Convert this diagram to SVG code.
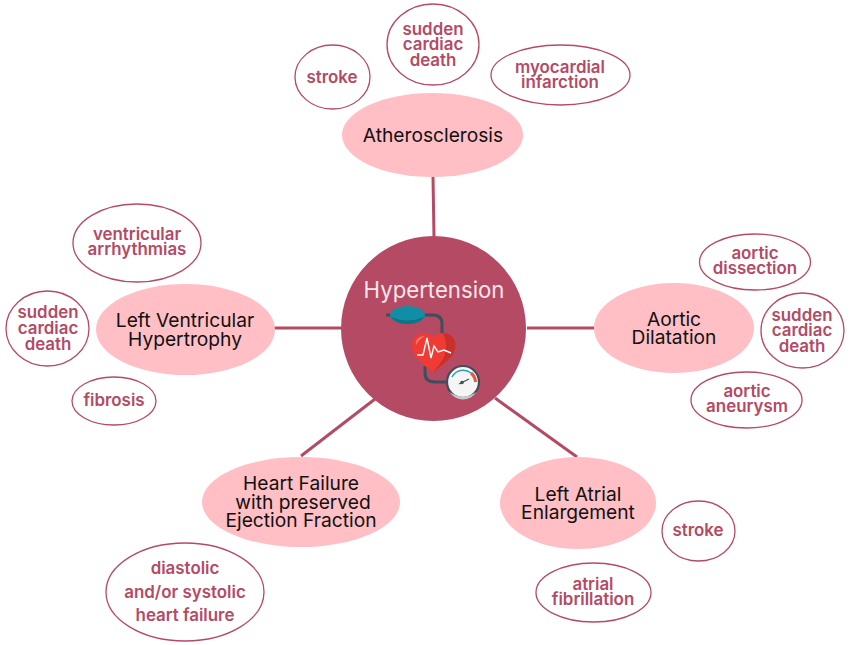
<svg xmlns="http://www.w3.org/2000/svg" width="850" height="645" viewBox="0 0 850 645">
<style>
.main{fill:#ffbfc4}
.out{fill:#fff;stroke:#b54a65;stroke-width:1.3}
.t{font-family:"Inter","Liberation Sans",sans-serif;font-size:19.2px;fill:#111;text-anchor:middle}
.s{font-family:"Inter","Liberation Sans",sans-serif;font-size:16.9px;font-weight:600;fill:#b54a65;text-anchor:middle}
.link{stroke:#b54a65;stroke-width:3;fill:none}
.tube{fill:none;stroke:#3f4f5a;stroke-width:3}
</style>
<rect width="850" height="645" fill="#fff"/>
<g id="connectors">
<line class="link" x1="433" y1="177" x2="434" y2="237"/>
<line class="link" x1="274" y1="328" x2="341" y2="328"/>
<line class="link" x1="527" y1="328" x2="594" y2="328"/>
<line class="link" x1="375" y1="399" x2="301" y2="456"/>
<line class="link" x1="495" y1="398" x2="577" y2="457"/>
</g>
<g id="hypertension">
<circle cx="433.500" cy="328.500" r="92.500" fill="#b54a65"/>
<text x="434" y="298" font-family="Inter,'Liberation Sans',sans-serif" font-size="22.2" fill="#fbe6ea" text-anchor="middle">Hypertension</text>
<!-- cuff and tubing -->
<path class="tube" d="M424 315H433Q442 315 442 324V336"/>
<path class="tube" d="M425 366V373Q425 382 435 382H448"/>
<line x1="386" y1="315" x2="392" y2="315" stroke="#3f4f5a" stroke-width="3"/>
<ellipse cx="407.500" cy="315" rx="17.500" ry="9" fill="#0f8ea6"/>
<path d="M391 317Q407 324 424 317Q420 324 407.500 324Q395 324 391 317Z" fill="#0b7488"/>
<!-- heart with trace -->
<path d="M433 372.500C424 364 412 358 412 345C412 337 418 333 424 333C428 333 431 335 433 337.500C436 334 440 333 443 333C450 333 455.500 338 455.500 345C455.500 358 442 364 433 372.500Z" fill="#ef3b34"/>
<path d="M443 333C450 333 455.500 338 455.500 345C455.500 358 442 364 433 372.500C442 362 451 352 443 333Z" fill="#c9302c"/>
<path d="M416 345C415 340 419 336 425 336C421 338 418 341 416 345Z" fill="#f77a72"/>
<path d="M417 355H423L427 338L431 358L434 346L438 352L444 350L451 353" fill="none" stroke="#fff" stroke-width="1.400"/>
<!-- pressure gauge -->
<circle cx="463" cy="382" r="16" fill="#f5f5f5" stroke="#3f4f5a" stroke-width="2.200"/>
<path d="M449.500 392A16 16 0 0 0 476.500 392Q463 401 449.500 392Z" fill="#c9c9c9"/>
<path d="M452 377A12.500 12.500 0 0 1 471 373" fill="none" stroke="#2aa0b5" stroke-width="1.500"/>
<path d="M471 373A12.500 12.500 0 0 1 475.500 382" fill="none" stroke="#e8553f" stroke-width="3"/>
<line x1="459" y1="384" x2="469" y2="379" stroke="#3f4f5a" stroke-width="1.200"/>
<circle cx="462" cy="382.500" r="1.800" fill="#3f4f5a"/>
</g>
<g id="atherosclerosis">
<ellipse class="main" cx="432.500" cy="135" rx="90.500" ry="42"/>
<text class="t" x="433" y="141.500">Atherosclerosis</text>
</g>
<g id="stroke-top">
<ellipse class="out" cx="332.500" cy="77" rx="37.500" ry="32"/>
<text class="s" x="332" y="83">stroke</text>
</g>
<g id="sudden-top">
<ellipse class="out" cx="433" cy="44.500" rx="46" ry="40.500"/>
<text class="s" x="433" y="35">sudden</text>
<text class="s" x="433" y="50">cardiac</text>
<text class="s" x="433" y="66">death</text>
</g>
<g id="myocardial">
<ellipse class="out" cx="560.500" cy="75" rx="69.500" ry="30"/>
<text class="s" x="560" y="73">myocardial</text>
<text class="s" x="560" y="88">infarction</text>
</g>
<g id="lvh">
<ellipse class="main" cx="185.500" cy="329.500" rx="89.500" ry="45.500"/>
<text class="t" x="185" y="327">Left Ventricular</text>
<text class="t" x="185" y="346">Hypertrophy</text>
</g>
<g id="arrhythmias">
<ellipse class="out" cx="137" cy="243" rx="64" ry="39"/>
<text class="s" x="137" y="240">ventricular</text>
<text class="s" x="137" y="255">arrhythmias</text>
</g>
<g id="sudden-left">
<ellipse class="out" cx="47.500" cy="328.500" rx="41.500" ry="37.500"/>
<text class="s" x="48" y="318">sudden</text>
<text class="s" x="48" y="334">cardiac</text>
<text class="s" x="48" y="350">death</text>
</g>
<g id="fibrosis">
<ellipse class="out" cx="114" cy="401" rx="42" ry="24"/>
<text class="s" x="114" y="406">fibrosis</text>
</g>
<g id="aortic-dilatation">
<ellipse class="main" cx="674" cy="328" rx="80" ry="45"/>
<text class="t" x="674" y="326">Aortic</text>
<text class="t" x="674" y="344">Dilatation</text>
</g>
<g id="dissection">
<ellipse class="out" cx="755" cy="262" rx="55.500" ry="28"/>
<text class="s" x="755" y="259">aortic</text>
<text class="s" x="755" y="274">dissection</text>
</g>
<g id="sudden-right">
<ellipse class="out" cx="802.500" cy="330.500" rx="41.500" ry="37.500"/>
<text class="s" x="802" y="321">sudden</text>
<text class="s" x="802" y="336">cardiac</text>
<text class="s" x="802" y="352">death</text>
</g>
<g id="aneurysm">
<ellipse class="out" cx="746.500" cy="400" rx="55.500" ry="28"/>
<text class="s" x="747" y="397">aortic</text>
<text class="s" x="747" y="412">aneurysm</text>
</g>
<g id="hfpef">
<ellipse class="main" cx="301" cy="502" rx="99" ry="45"/>
<text class="t" x="301" y="490">Heart Failure</text>
<text class="t" x="303" y="509">with preserved</text>
<text class="t" x="301" y="527">Ejection Fraction</text>
</g>
<g id="heart-failure">
<ellipse class="out" cx="185" cy="592" rx="79" ry="49"/>
<text class="s" x="185" y="574">diastolic</text>
<text class="s" x="185" y="598">and/or systolic</text>
<text class="s" x="185" y="621">heart failure</text>
</g>
<g id="laa">
<ellipse class="main" cx="578" cy="503" rx="78" ry="46"/>
<text class="t" x="578" y="501">Left Atrial</text>
<text class="t" x="578" y="519">Enlargement</text>
</g>
<g id="stroke-right">
<ellipse class="out" cx="698.500" cy="531" rx="36.500" ry="30"/>
<text class="s" x="698" y="536">stroke</text>
</g>
<g id="fibrillation">
<ellipse class="out" cx="593.500" cy="592.500" rx="57.500" ry="29.500"/>
<text class="s" x="593" y="590">atrial</text>
<text class="s" x="593" y="605">fibrillation</text>
</g>
</svg>
